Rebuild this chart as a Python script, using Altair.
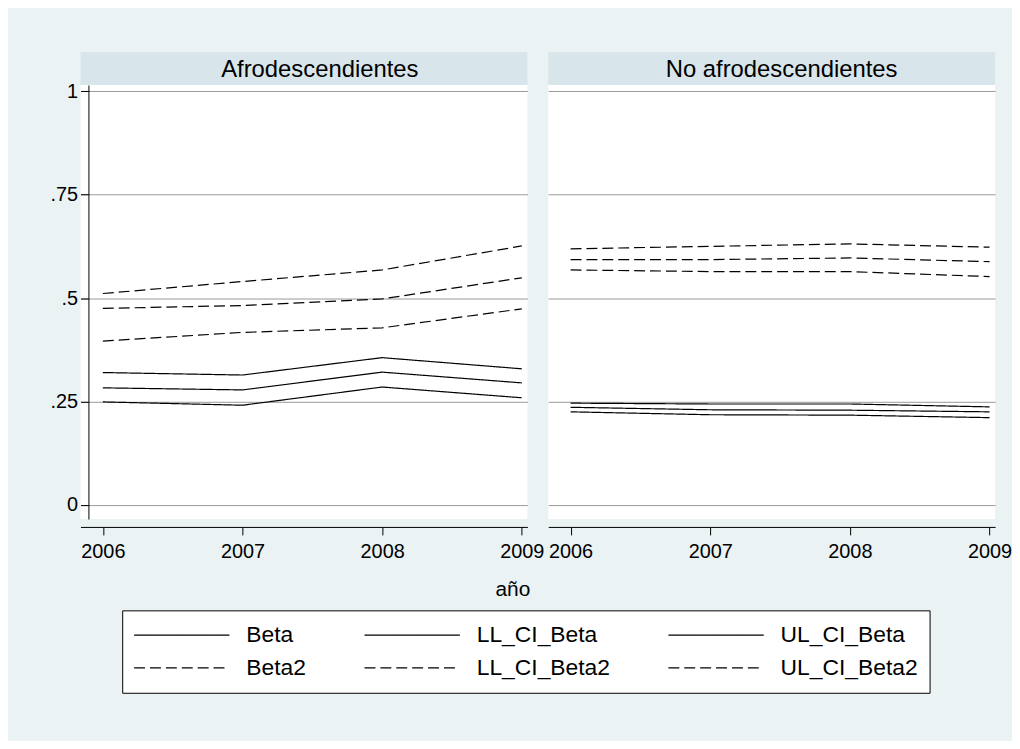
import altair as alt
import pandas as pd

FONT = "Liberation Sans"
BG = "#EAF2F3"
STRIP = "#D8E5EA"

years = [2006, 2007, 2008, 2009]
groups = ["Afrodescendientes", "No afrodescendientes"]
strip_dx = [16, 10]
series_names = ["Beta", "LL_CI_Beta", "UL_CI_Beta", "Beta2", "LL_CI_Beta2", "UL_CI_Beta2"]
y_ticks = [0, 0.25, 0.5, 0.75, 1]

# Afrodescendientes
afro_beta = [0.283, 0.278, 0.321, 0.295]
afro_ll_beta = [0.249, 0.241, 0.285, 0.259]
afro_ul_beta = [0.320, 0.314, 0.356, 0.329]
afro_beta2 = [0.475, 0.482, 0.498, 0.549]
afro_ll_beta2 = [0.396, 0.417, 0.428, 0.474]
afro_ul_beta2 = [0.511, 0.540, 0.568, 0.626]

# No afrodescendientes
noafro_beta = [0.236, 0.230, 0.229, 0.225]
noafro_ll_beta = [0.225, 0.218, 0.217, 0.211]
noafro_ul_beta = [0.246, 0.244, 0.244, 0.237]
noafro_beta2 = [0.593, 0.593, 0.597, 0.588]
noafro_ll_beta2 = [0.568, 0.564, 0.564, 0.552]
noafro_ul_beta2 = [0.619, 0.625, 0.631, 0.623]

series_by_group = {
    "Afrodescendientes": [afro_beta, afro_ll_beta, afro_ul_beta,
                          afro_beta2, afro_ll_beta2, afro_ul_beta2],
    "No afrodescendientes": [noafro_beta, noafro_ll_beta, noafro_ul_beta,
                             noafro_beta2, noafro_ll_beta2, noafro_ul_beta2],
}

rows = []
for g in groups:
    for name, vals in zip(series_names, series_by_group[g]):
        for yr, v in zip(years, vals):
            rows.append({"group": g, "series": name, "year": yr, "value": v})
df = pd.DataFrame(rows)

PW = 450
PH = 437
SH = 33

dash_range = [[1, 0], [1, 0], [1, 0], [11, 5], [11, 5], [11, 5]]

legend = alt.Legend(
    title=None, orient="none", legendX=42, legendY=562, direction="horizontal",
    columns=3, symbolType="stroke",
    symbolSize=9216, symbolStrokeWidth=1.2, symbolStrokeColor="black",
    labelFont=FONT, labelFontSize=23, labelColor="black", labelOffset=16,
    fillColor="white", strokeColor="black", padding=11,
    columnPadding=57, rowPadding=5, clipHeight=28,
)


def panel(group, first, dx):
    strip = alt.Chart(pd.DataFrame({"label": [group]})).mark_text(
        font=FONT, fontSize=24, color="black", baseline="middle", align="center", dx=dx
    ).encode(
        text="label:N", x=alt.value(PW / 2), y=alt.value(SH / 2 + 1)
    ).properties(width=PW, height=SH, view=alt.ViewBackground(fill=STRIP, stroke=None))

    if first:
        yaxis = alt.Axis(
            values=y_ticks, title=None, grid=True, tickSize=8, offset=-8,
            labelPadding=3,
            labelExpr="datum.value == 0 ? '0' : datum.value == 1 ? '1' : replace(format(datum.value, '.2~f'), '0.', '.')",
        )
    else:
        yaxis = alt.Axis(values=y_ticks, title=None, grid=True, labels=False,
                         ticks=False, domain=False)

    xaxis = alt.Axis(values=years, format="d", title=None, grid=False,
                     tickSize=8, offset=8, labelPadding=7, labelFlush=False)

    lines = alt.Chart(df[df["group"] == group]).mark_line(
        color="black", strokeWidth=1.2
    ).encode(
        x=alt.X("year:Q", scale=alt.Scale(domain=[2005.84, 2009.04], nice=False, zero=False), axis=xaxis),
        y=alt.Y("value:Q", scale=alt.Scale(domain=[-0.034, 1.015], nice=False, zero=False), axis=yaxis),
        strokeDash=alt.StrokeDash("series:N", scale=alt.Scale(domain=series_names, range=dash_range),
                                  legend=legend, sort=series_names),
        detail="series:N",
    ).properties(width=PW, height=PH, view=alt.ViewBackground(fill="white", stroke=None))

    return alt.vconcat(strip, lines, spacing=0, bounds="flush")


top = alt.hconcat(panel(groups[0], True, strip_dx[0]), panel(groups[1], False, strip_dx[1]),
                  spacing=4).properties(
    title=alt.TitleParams(text="año", orient="bottom", anchor="middle", fontSize=21,
                          font=FONT, fontWeight="normal", color="black", offset=18, dx=-18)
)

chart = alt.vconcat(top).configure(
    background=BG, padding={"left": 42, "top": 42, "right": 0, "bottom": 45}, font=FONT
).configure_view(stroke=None).configure_axis(
    domainColor="black", tickColor="black", labelColor="black", gridColor="#999999",
    gridWidth=1, labelFont=FONT, labelFontSize=20, domainWidth=1, tickWidth=1,
)

chart.save("out.html", embed_options={"renderer": "svg", "actions": False})
